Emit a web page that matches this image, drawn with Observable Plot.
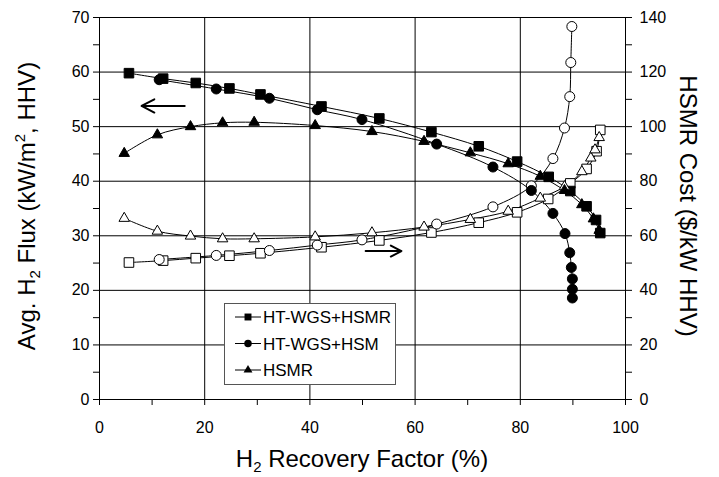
<!DOCTYPE html>
<html><head><meta charset="utf-8">
<script src="https://cdn.jsdelivr.net/npm/d3@7"></script>
<script src="https://cdn.jsdelivr.net/npm/@observablehq/plot@0.6"></script>
<style>
body{margin:0;background:#fff;}
#chart svg{font-family:"Liberation Sans",Arial,sans-serif;}
</style>
</head><body><div id="chart"></div>
<script>
// Series names
const seriesNames = ["HT-WGS+HSMR", "HT-WGS+HSM", "HSMR"];

// H2 flux (left axis, kW/m2 HHV) — filled markers
const sqFluxX = [5.6, 12.1, 18.3, 24.7, 30.6, 42.2, 53.2, 63.1, 72.1, 79.4, 85.4, 89.5, 92.6, 94.4, 95.2];
const sqFluxY = [59.8, 58.8, 58.0, 57.0, 55.9, 53.7, 51.5, 49.0, 46.4, 43.6, 40.8, 38.2, 35.4, 32.9, 30.5];
const ciFluxX = [11.35, 22.2, 32.3, 41.4, 49.9, 64.1, 74.8, 82.1, 86.2, 88.5, 89.4, 89.7, 89.9, 89.9, 89.9];
const ciFluxY = [58.6, 56.9, 55.2, 53.1, 51.3, 46.8, 42.6, 38.3, 34.1, 30.4, 26.9, 24.2, 22.1, 20.2, 18.6];
const trFluxX = [4.7, 11.0, 17.3, 23.4, 29.4, 41.0, 51.8, 61.7, 70.5, 77.7, 83.8, 88.4, 91.7, 93.9, 95.0];
const trFluxY = [45.1, 48.5, 50.0, 50.7, 50.8, 50.2, 49.1, 47.3, 45.2, 43.2, 40.9, 38.3, 35.7, 33.1, 31.0];

// HSMR cost (right axis, $/kW HHV) — open markers
const sqCostX = [5.6, 12.1, 18.3, 24.7, 30.6, 42.2, 53.2, 63.1, 72.1, 79.4, 85.3, 89.5, 92.6, 94.5, 95.2];
const sqCostY = [50.2, 50.9, 51.8, 52.7, 53.6, 55.8, 58.3, 61.2, 64.8, 68.6, 73.5, 79.2, 84.5, 91.0, 98.8];
const ciCostX = [11.35, 22.2, 32.3, 41.4, 49.9, 64.1, 74.8, 82.1, 86.2, 88.4, 89.4, 89.6, 89.8];
const ciCostY = [51.3, 52.8, 54.6, 56.6, 58.5, 64.3, 70.6, 78.3, 88.3, 99.5, 111.0, 123.5, 136.7];
const trCostX = [4.7, 11.0, 17.3, 23.4, 29.4, 41.0, 51.8, 61.7, 70.5, 77.7, 83.8, 88.4, 91.7, 93.4, 94.2, 95.0];
const trCostY = [66.4, 61.7, 59.9, 58.9, 58.9, 59.6, 61.1, 63.2, 66.0, 69.0, 73.8, 78.0, 83.5, 88.5, 91.5, 96.0];

// Axis ticks
const xTicks = [0, 10, 20, 30, 40, 50, 60, 70, 80, 90, 100];
const xLabels = [0, 20, 40, 60, 80, 100];
const yLeftTicks = [0, 5, 10, 15, 20, 25, 30, 35, 40, 45, 50, 55, 60, 65, 70];
const yRightLabels = [0, 20, 40, 60, 80, 100, 120, 140];
const xGrid = [20, 40, 60, 80];
const yGrid = [10, 20, 30, 40, 50, 60];

// Direction arrows (flux -> left axis, cost -> right axis)
const arrowX1 = [16.2, 50.6];
const arrowX2 = [8.0, 57.4];
const arrowY = [53.8, 27.2];

const zip = (xs, ys) => xs.map((x, i) => ({x, y: ys[i]}));
const costRatio = 2; // right axis = 2 x left axis
const zipCost = (xs, ys) => xs.map((x, i) => ({x, y: ys[i] / costRatio}));

const fluxSets = [zip(sqFluxX, sqFluxY), zip(ciFluxX, ciFluxY), zip(trFluxX, trFluxY)];
const costSets = [zipCost(sqCostX, sqCostY), zipCost(ciCostX, ciCostY), zipCost(trCostX, trCostY)];
const symbols = ["square", "circle", "triangle"];
const radii = [5.4, 5, 3.9];
const arrows = arrowX1.map((x1, i) => ({x1, x2: arrowX2[i], y: arrowY[i]}));

const marks = [
  Plot.gridX(xGrid, {stroke: "#000", strokeOpacity: 1, strokeWidth: 1}),
  Plot.gridY(yGrid, {stroke: "#000", strokeOpacity: 1, strokeWidth: 1}),
  Plot.frame({stroke: "#000", strokeWidth: 1}),
  Plot.axisX({ticks: xTicks, tickSize: 6, tickPadding: 16, fontSize: 16, label: null,
    tickFormat: d => xLabels.includes(d) ? String(d) : ""}),
  Plot.axisY({anchor: "left", ticks: yLeftTicks, tickSize: 6, tickPadding: 4, fontSize: 16, label: null,
    tickFormat: d => d % 10 === 0 ? String(d) : ""}),
  Plot.axisY({anchor: "right", ticks: yLeftTicks, tickSize: 6, tickPadding: 8, fontSize: 16, label: null,
    tickFormat: d => yRightLabels.includes(d * costRatio) ? String(d * costRatio) : ""}),
];
for (let i = 0; i < 3; i++) {
  marks.push(Plot.line(costSets[i], {x: "x", y: "y", curve: "catmull-rom", stroke: "#000", strokeWidth: 1}));
  marks.push(Plot.line(fluxSets[i], {x: "x", y: "y", curve: "catmull-rom", stroke: "#000", strokeWidth: 1}));
}
for (let i = 0; i < 3; i++) {
  marks.push(Plot.dot(costSets[i], {x: "x", y: "y", symbol: () => symbols[i], r: radii[i], fill: "#fff", stroke: "#000", strokeWidth: 1}));
  marks.push(Plot.dot(fluxSets[i], {x: "x", y: "y", symbol: () => symbols[i], r: radii[i], fill: "#000", stroke: "#000", strokeWidth: 1}));
}
marks.push(Plot.arrow(arrows, {x1: "x1", x2: "x2", y1: "y", y2: "y", stroke: "#000", strokeWidth: 2, headLength: 11, headAngle: 55}));

const chart = Plot.plot({
  width: 719, height: 477,
  marginLeft: 99, marginRight: 94, marginTop: 17, marginBottom: 78,
  style: {fontFamily: "Liberation Sans, Arial, sans-serif", fontSize: "16px", color: "#000", background: "#fff"},
  x: {domain: [0, 100]},
  y: {domain: [0, 70]},
  symbol: {type: "identity"},
  marks
});
document.getElementById("chart").appendChild(chart);

// Axis titles and legend
const svg = d3.select(chart);
const lt = svg.append("text").attr("transform", "translate(35,206) rotate(-90)")
  .attr("text-anchor", "middle").attr("font-size", 24).attr("fill", "#000");
lt.append("tspan").text("Avg. H");
lt.append("tspan").attr("font-size", 15).attr("dy", 5).text("2");
lt.append("tspan").attr("dy", -5).text(" Flux (kW/m");
lt.append("tspan").attr("font-size", 15).attr("dy", -10).text("2");
lt.append("tspan").attr("dy", 10).text(", HHV)");

svg.append("text").attr("transform", "translate(680,206) rotate(90)")
  .attr("text-anchor", "middle").attr("font-size", 24).attr("fill", "#000")
  .text("HSMR Cost ($/kW HHV)");

const bt = svg.append("text").attr("x", 362).attr("y", 467)
  .attr("text-anchor", "middle").attr("font-size", 24).attr("fill", "#000");
bt.append("tspan").text("H");
bt.append("tspan").attr("font-size", 15).attr("dy", 5).text("2");
bt.append("tspan").attr("dy", -5).text(" Recovery Factor (%)");

const lg = svg.append("g");
lg.append("rect").attr("x", 224.5).attr("y", 303.5).attr("width", 171).attr("height", 81)
  .attr("fill", "#fff").attr("stroke", "#555").attr("stroke-width", 1);
const symTypes = [d3.symbolSquare, d3.symbolCircle, d3.symbolTriangle];
const symSizes = [48, 44, 34];
seriesNames.forEach((name, i) => {
  const yy = 317 + i * 26.5;
  lg.append("line").attr("x1", 235).attr("x2", 261).attr("y1", yy).attr("y2", yy).attr("stroke", "#000");
  lg.append("path").attr("d", d3.symbol(symTypes[i], symSizes[i])()).attr("transform", `translate(248,${yy})`).attr("fill", "#000");
  lg.append("text").attr("x", 263).attr("y", yy).attr("dy", "0.36em").attr("text-anchor", "start")
    .attr("font-size", 17).attr("fill", "#000").text(name);
});
</script>
</body></html>
